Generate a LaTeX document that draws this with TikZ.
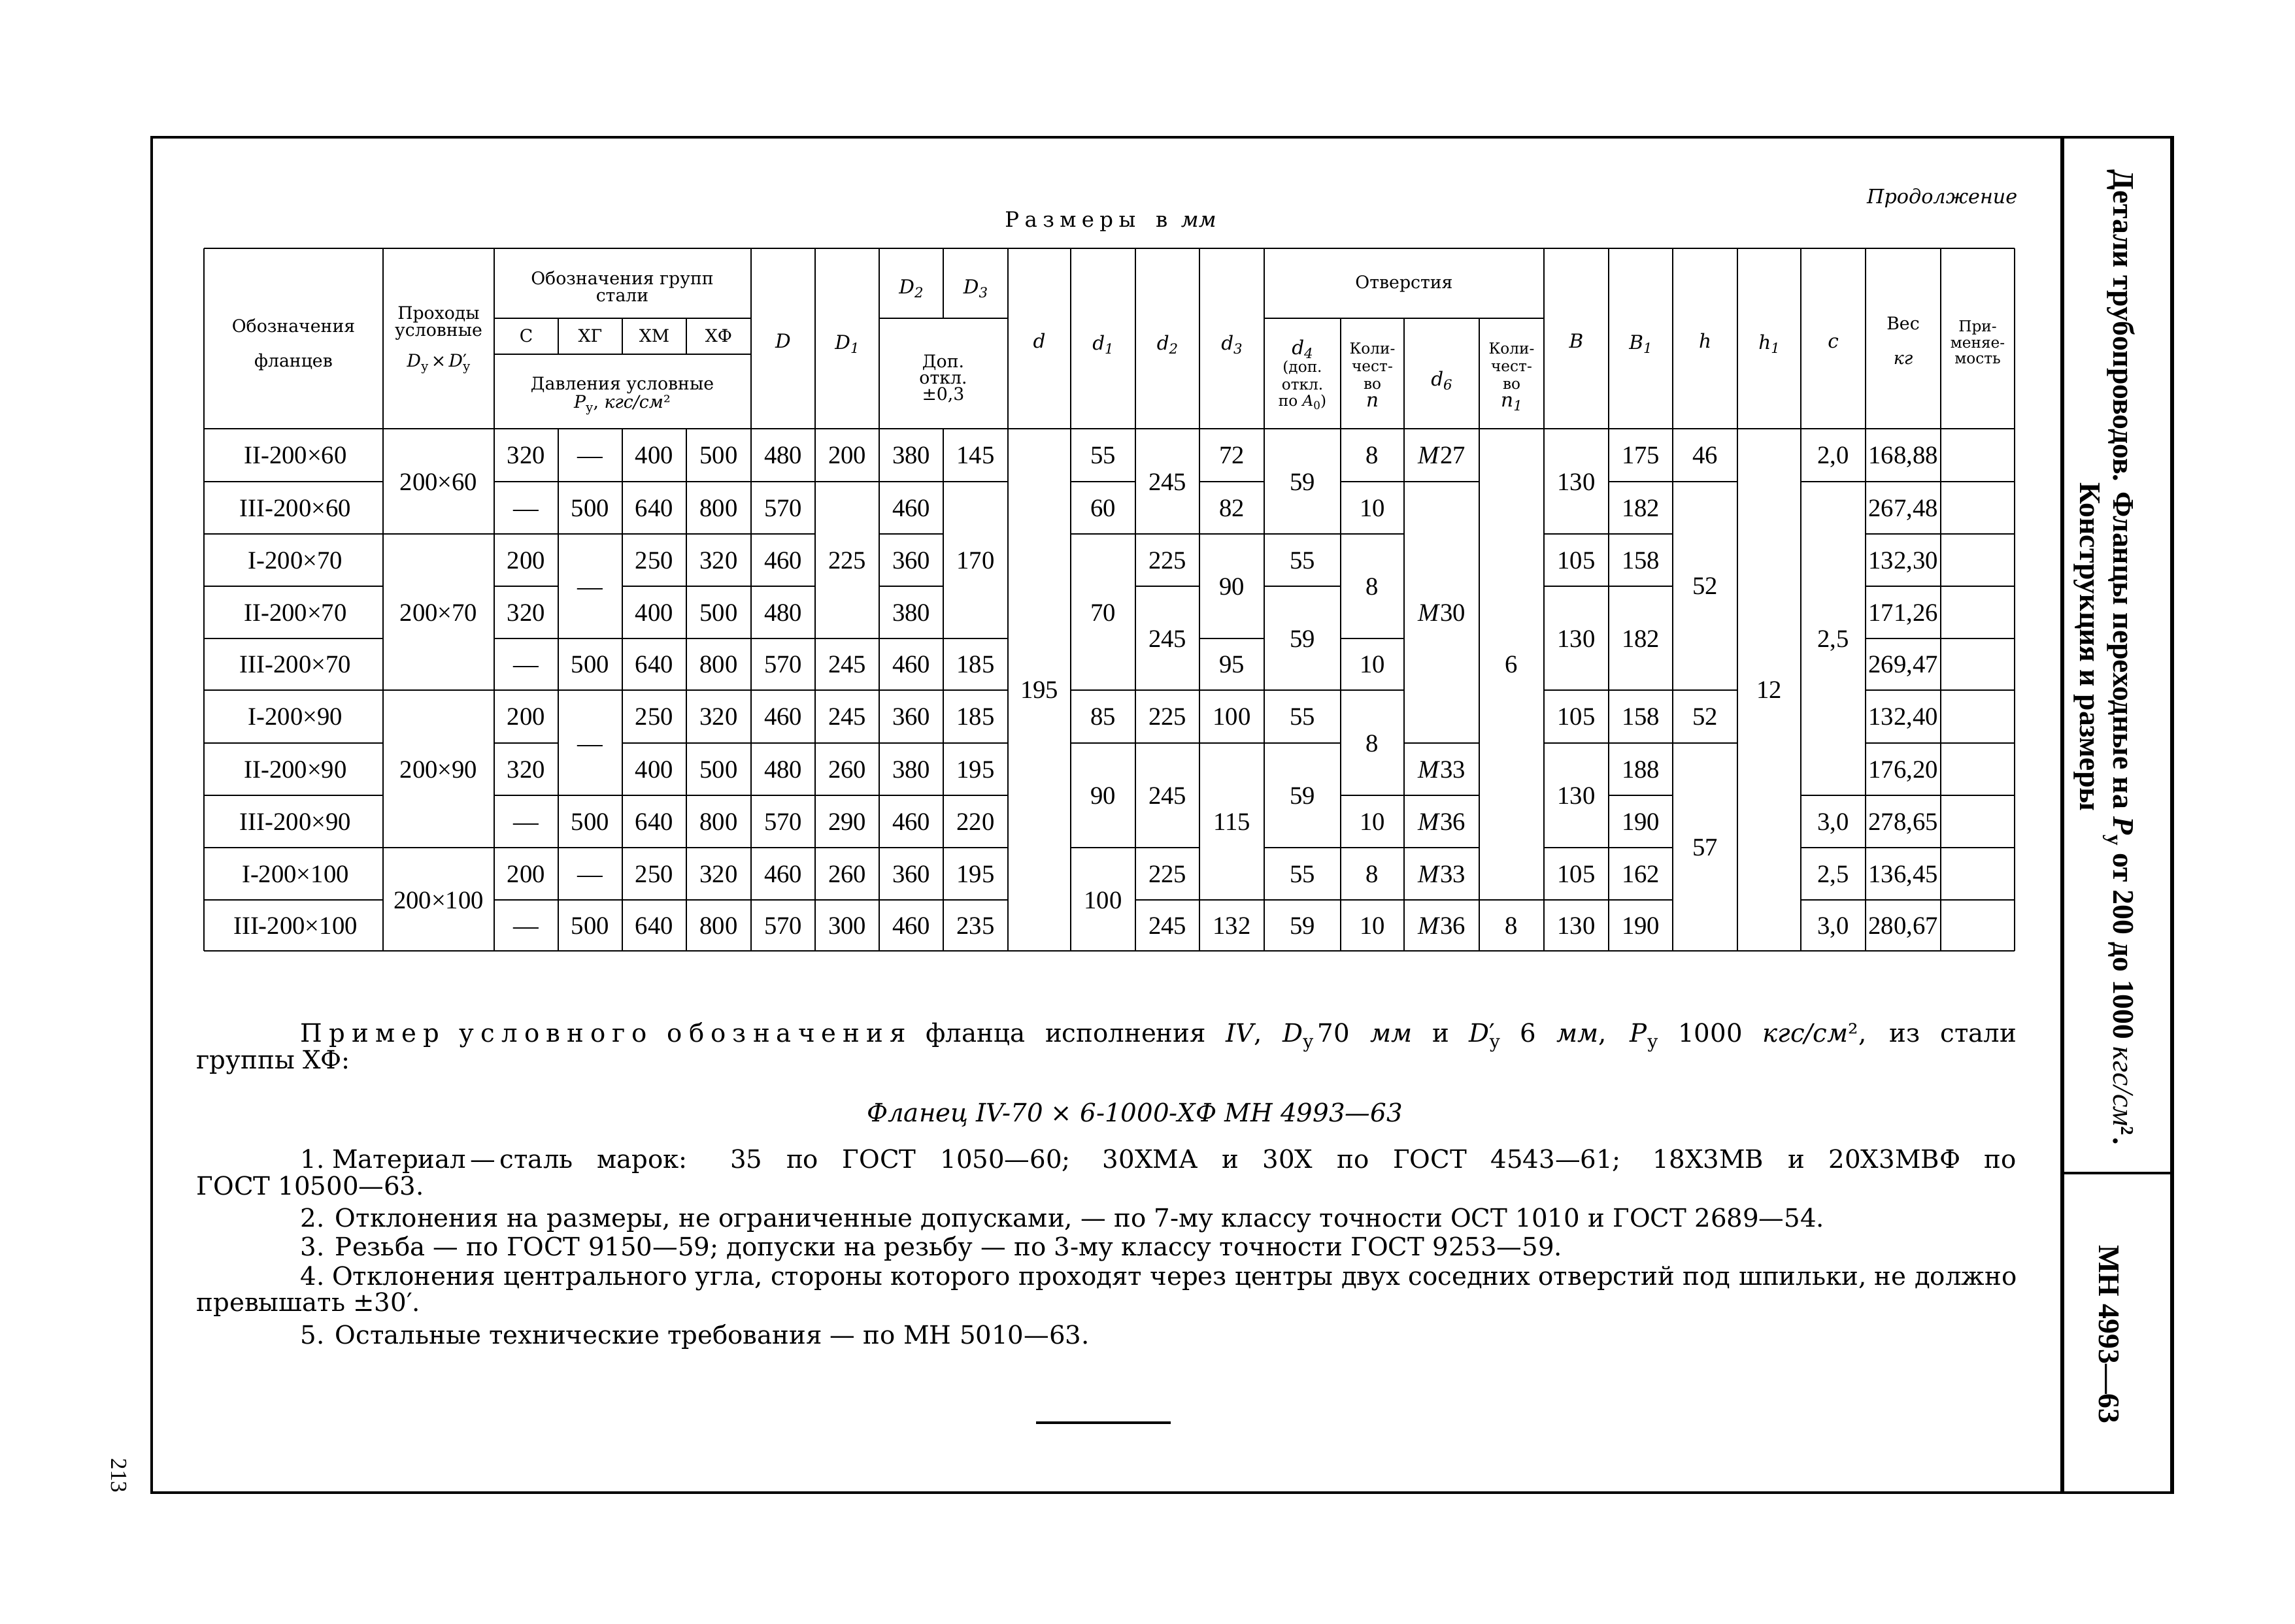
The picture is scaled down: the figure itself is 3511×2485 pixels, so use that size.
\documentclass[tikz,border=0pt]{standalone}
\usepackage{fontspec}
\usepackage{graphicx}
\setmainfont{DejaVu Serif}
\newfontfamily\libser{Liberation Serif}
\newcommand\lidx[1]{\raisebox{-0.45ex}{\scalebox{0.72}{#1}}}
\newcommand\lsk{\kern0.26em}
\newcommand\colcells[3]{\foreach \t/\yy [count=\i] in {#3} {\node[bd] (#1\i) at (#2,\yy) {\t};}}
\def\CX{{312,586,756,854,952,1050,1149,1247,1345,1443,1542,1638,1737,1835,1934,2051,2148,2263,2362,2461,2559,2658,2755,2854,2969,3082}}
\def\RY{{656,737,817,897,977,1056,1137,1217,1297,1377,1455}}
\begin{document}
\begin{tikzpicture}[x=0.01cm,y=-0.01cm,
  tl/.style={line width=0.55pt},
  frm/.style={line width=1.3pt},
  pnl/.style={line width=1.5pt},
  bd/.style={font=\libser\fontsize{11}{13}\selectfont, anchor=base, yshift=-0.13cm, inner sep=0pt},
  hd/.style={font=\fontsize{7.6}{9}\selectfont, anchor=base, yshift=-0.09cm, inner sep=0pt},
  hs/.style={font=\fontsize{6.6}{8}\selectfont, anchor=base, yshift=-0.08cm, inner sep=0pt},
  hi/.style={font=\fontsize{8.4}{10}\selectfont\itshape, anchor=base, yshift=-0.1cm, inner sep=0pt},
  nt/.style={font=\fontsize{11}{13}\selectfont, anchor=base west, inner sep=0pt},
  ttl/.style={font=\libser\fontsize{13}{15}\selectfont\bfseries, rotate=-90, inner sep=0pt}]
\useasboundingbox (0,0) rectangle (3511,2485);
\fill[white] (0,0) rectangle (3511,2485);

% ---------- frame ----------
\draw[frm] (232,210) -- (3325,210);
\draw[frm] (232,208) -- (232,2286);
\draw[frm] (232,2284) -- (3323,2284);
\draw[pnl] (3155,210) -- (3155,2284);
\draw[pnl] (3323,208) -- (3323,2286);
\draw[line width=0.9pt] (3155,1795) -- (3323,1795);

% ---------- table rules ----------
\draw[tl] (312,380) -- (3082,380);
\draw[tl] (312,656) -- (3082,656);
\draw[tl] (312,1455) -- (3082,1455);
\draw[tl] (756,487) -- (1149,487);
\draw[tl] (756,542) -- (1149,542);
\draw[tl] (1345,487) -- (1542,487);
\draw[tl] (1934,487) -- (2362,487);
\foreach \k in {0,1,2,6,7,8,10,11,12,13,14,18,19,20,21,22,23,24,25}
  {\pgfmathsetmacro\xx{\CX[\k]}\draw[tl] (\xx,380) -- (\xx,1455);}
\foreach \k in {3,4,5}
  {\pgfmathsetmacro\xx{\CX[\k]}\draw[tl] (\xx,487) -- (\xx,542);\draw[tl] (\xx,656) -- (\xx,1455);}
\draw[tl] (1443,380) -- (1443,487);
\draw[tl] (1443,656) -- (1443,1455);
\foreach \k in {15,16,17}
  {\pgfmathsetmacro\xx{\CX[\k]}\draw[tl] (\xx,487) -- (\xx,1455);}
\foreach \k/\bl in {0/{1,2,3,4,5,6,7,8,9},1/{2,5,8},2/{1,2,3,4,5,6,7,8,9},3/{1,2,4,5,7,8,9},
  4/{1,2,3,4,5,6,7,8,9},5/{1,2,3,4,5,6,7,8,9},6/{1,2,3,4,5,6,7,8,9},7/{1,4,5,6,7,8,9},
  8/{1,2,3,4,5,6,7,8,9},9/{1,4,5,6,7,8,9},11/{1,2,5,6,8},12/{2,3,5,6,8,9},13/{1,2,4,5,6,9},
  14/{2,3,5,6,8,9},15/{1,2,4,5,7,8,9},16/{1,6,7,8,9},17/{9},18/{2,3,5,6,8,9},
  19/{1,2,3,5,6,7,8,9},20/{1,5,6},22/{1,7,8,9},23/{1,2,3,4,5,6,7,8,9},24/{1,2,3,4,5,6,7,8,9}}{
  \pgfmathsetmacro\xa{\CX[\k]}\pgfmathsetmacro\xb{\CX[\k+1]}
  \foreach \b in \bl {\pgfmathsetmacro\yy{\RY[\b]}\draw[tl] (\xa,\yy) -- (\xb,\yy);}
}

% ---------- header ----------
\node[hd] (h1) at (449,499) {Обозначения};
\node[hd] (h2) at (449,552) {фланцев};
\node[hd] (h3) at (671,479) {Проходы};
\node[hd] (h4) at (671,505) {условные};
\node[hd] (h5) at (671,552) {{\itshape D}\lidx{у}\,×\,{\itshape D}\makebox[0pt][l]{′}\lidx{у}};
\node[hd] (h6) at (952,426) {Обозначения групп};
\node[hd] (h7) at (952,452) {стали};
\node[hd] (h8) at (805,514) {С};
\node[hd] (h9) at (903,514) {ХГ};
\node[hd] (h10) at (1001,514) {ХМ};
\node[hd] (h11) at (1099.5,514) {ХФ};
\node[hd] (h12) at (952,587) {Давления условные};
\node[hd] (h13) at (952,615) {{\itshape P}\lidx{у}, {\itshape кгс/см}²};
\node[hi] (h14) at (1198,522) {D};
\node[hi] (h15) at (1296,524) {D\lidx{1}};
\node[hi] (h16) at (1394,439) {D\lidx{2}};
\node[hi] (h17) at (1492.5,439) {D\lidx{3}};
\node[hd] (h18) at (1443,553) {Доп.};
\node[hd] (h19) at (1443,578) {откл.};
\node[hd] (h20) at (1443,603) {±0,3};
\node[hi] (h21) at (1590,522) {d};
\node[hi] (h22) at (1687.5,525) {d\lidx{1}};
\node[hi] (h23) at (1786,525) {d\lidx{2}};
\node[hi] (h24) at (1884.5,525) {d\lidx{3}};
\node[hd] (h25) at (2148,432) {Отверстия};
\node[hi] (h26) at (1992.5,532) {d\lidx{4}};
\node[hs] (h27) at (1992.5,561) {(доп.};
\node[hs] (h28) at (1992.5,588) {откл.};
\node[hs] (h29) at (1992.5,613) {по {\itshape A}\lidx{0})};
\node[hs] (h30) at (2099.5,533) {Коли-};
\node[hs] (h31) at (2099.5,560) {чест-};
\node[hs] (h32) at (2099.5,587) {во};
\node[hi] (h33) at (2099.5,612) {n};
\node[hi] (h34) at (2205.5,580) {d\lidx{6}};
\node[hs] (h35) at (2312.5,533) {Коли-};
\node[hs] (h36) at (2312.5,560) {чест-};
\node[hs] (h37) at (2312.5,587) {во};
\node[hi] (h38) at (2312.5,612) {n\lidx{1}};
\node[hi] (h39) at (2411.5,522) {B};
\node[hi] (h40) at (2510,524) {B\lidx{1}};
\node[hi] (h41) at (2608.5,522) {h};
\node[hi] (h42) at (2706.5,524) {h\lidx{1}};
\node[hi] (h43) at (2804.5,522) {c};
\node[hd] (h44) at (2911.5,495) {Вес};
\node[hd] (h45) at (2911.5,548) {\itshape кг};
\node[hs] (h46) at (3025.5,499) {При-};
\node[hs] (h47) at (3025.5,524) {меняе-};
\node[hs] (h48) at (3025.5,548) {мость};

% ---------- body ----------
\colcells{lab}{452}{II-200×60/696.5, III-200×60/777, I-200×70/857, II-200×70/937, III-200×70/1016.5, I-200×90/1096.5, II-200×90/1177, III-200×90/1257, I-200×100/1337, III-200×100/1416}
\colcells{pas}{671}{200×60/737, 200×70/937, 200×90/1177, 200×100/1377}
\colcells{cs}{805}{320/696.5, —/777, 200/857, 320/937, —/1016.5, 200/1096.5, 320/1177, —/1257, 200/1337, —/1416}
\colcells{cg}{903}{—/696.5, 500/777, —/897, 500/1016.5, —/1137, 500/1257, —/1337, 500/1416}
\colcells{cm}{1001}{400/696.5, 640/777, 250/857, 400/937, 640/1016.5, 250/1096.5, 400/1177, 640/1257, 250/1337, 640/1416}
\colcells{cf}{1099.5}{500/696.5, 800/777, 320/857, 500/937, 800/1016.5, 320/1096.5, 500/1177, 800/1257, 320/1337, 800/1416}
\colcells{cD}{1198}{480/696.5, 570/777, 460/857, 480/937, 570/1016.5, 460/1096.5, 480/1177, 570/1257, 460/1337, 570/1416}
\colcells{cDa}{1296}{200/696.5, 225/857, 245/1016.5, 245/1096.5, 260/1177, 290/1257, 260/1337, 300/1416}
\colcells{cDb}{1394}{380/696.5, 460/777, 360/857, 380/937, 460/1016.5, 360/1096.5, 380/1177, 460/1257, 360/1337, 460/1416}
\colcells{cDc}{1492.5}{145/696.5, 170/857, 185/1016.5, 185/1096.5, 195/1177, 220/1257, 195/1337, 235/1416}
\colcells{cd}{1590}{195/1055.5}
\colcells{cda}{1687.5}{55/696.5, 60/777, 70/937, 85/1096.5, 90/1217, 100/1377}
\colcells{cdb}{1786}{245/737, 225/857, 245/977, 225/1096.5, 245/1217, 225/1337, 245/1416}
\colcells{cdc}{1884.5}{72/696.5, 82/777, 90/897, 95/1016.5, 100/1096.5, 115/1257, 132/1416}
\colcells{cdd}{1992.5}{59/737, 55/857, 59/977, 55/1096.5, 59/1217, 55/1337, 59/1416}
\colcells{cn}{2099.5}{8/696.5, 10/777, 8/897, 10/1016.5, 8/1137, 10/1257, 8/1337, 10/1416}
\colcells{cdf}{2205.5}{\textit{M}27/696.5, \textit{M}30/937, \textit{M}33/1177, \textit{M}36/1257, \textit{M}33/1337, \textit{M}36/1416}
\colcells{cna}{2312.5}{6/1016.5, 8/1416}
\colcells{cB}{2411.5}{130/737, 105/857, 130/977, 105/1096.5, 130/1217, 105/1337, 130/1416}
\colcells{cBa}{2510}{175/696.5, 182/777, 158/857, 182/977, 158/1096.5, 188/1177, 190/1257, 162/1337, 190/1416}
\colcells{ch}{2608.5}{46/696.5, 52/896.5, 52/1096.5, 57/1296}
\colcells{cha}{2706.5}{12/1055.5}
\colcells{cc}{2804.5}{{2,0}/696.5, {2,5}/977, {3,0}/1257, {2,5}/1337, {3,0}/1416}
\colcells{cw}{2911.5}{{168,88}/696.5, {267,48}/777, {132,30}/857, {171,26}/937, {269,47}/1016.5, {132,40}/1096.5, {176,20}/1177, {278,65}/1257, {136,45}/1337, {280,67}/1416}

% ---------- titles above table ----------
\node[font=\fontsize{8.6}{11}\selectfont\itshape, anchor=base east, inner sep=0pt] (cont) at (3087,312) {Продолжение};
\node[font=\fontsize{9.2}{11}\selectfont, anchor=base, inner sep=0pt] (dims) at (1699,348) {Р\lsk а\lsk з\lsk м\lsk е\lsk р\lsk ы\ \ \ в\ \ \textit{мм}};

% ---------- notes ----------
\node[nt] (p1) at (459,1594) {\makebox[26.24cm][s]{П\lsk р\lsk и\lsk м\lsk е\lsk р у\lsk с\lsk л\lsk о\lsk в\lsk н\lsk о\lsk г\lsk о о\lsk б\lsk о\lsk з\lsk н\lsk а\lsk ч\lsk е\lsk н\lsk и\lsk я фланца исполнения \textit{IV}, \textit{D}\lidx{у}\,70 \textit{мм} и \textit{D}\makebox[0pt][l]{′}\lidx{у} 6 \textit{мм}, \textit{P}\lidx{у} 1000 \textit{кгс/см}², из стали}};
\node[nt] (p2) at (300,1635) {группы ХФ:};
\node[nt, anchor=base] (p3) at (1736,1716) {\itshape Фланец IV-70 × 6-1000-ХФ МН 4993—63};
\node[nt] (p4) at (459,1787) {\makebox[26.24cm][s]{1.\hspace{0.3em}Материал\,—\,сталь марок: 35 по ГОСТ 1050—60; 30ХМА и 30Х по ГОСТ 4543—61; 18Х3МВ и 20Х3МВФ по}};
\node[nt] (p5) at (300,1828) {ГОСТ 10500—63.};
\node[nt] (p6) at (459,1877) {2. Отклонения на размеры, не ограниченные допусками, — по 7-му классу точности ОСТ 1010 и ГОСТ 2689—54.};
\node[nt] (p7) at (459,1921) {3. Резьба — по ГОСТ 9150—59; допуски на резьбу — по 3-му классу точности ГОСТ 9253—59.};
\node[nt] (p8) at (459,1966) {\makebox[26.24cm][s]{4.\hspace{0.3em}Отклонения центрального угла, стороны которого проходят через центры двух соседних отверстий под шпильки, не должно}};
\node[nt] (p9) at (300,2006) {превышать ±30′.};
\node[nt] (p10) at (459,2056) {5. Остальные технические требования — по МН 5010—63.};
\coordinate (ra) at (1585,2177);
\coordinate (rb) at (1791,2177);
\draw[line width=0.9pt] (ra) -- (rb);

% ---------- side panel ----------
\node[ttl] (t1) at (3242,1006) {Детали трубопроводов. Фланцы переходные на \textit{P}\lidx{у} от 200 до 1000 {\mdseries\itshape кгс/см}²\kern1pt.};
\node[ttl] (t2) at (3192,990) {Конструкция и размеры};
\node[ttl] (t3) at (3226,2042) {МН 4993—63};
\node[font=\libser\fontsize{10}{12}\selectfont, rotate=-90, inner sep=0pt] (pg) at (182,2258) {213};
\end{tikzpicture}
\end{document}
